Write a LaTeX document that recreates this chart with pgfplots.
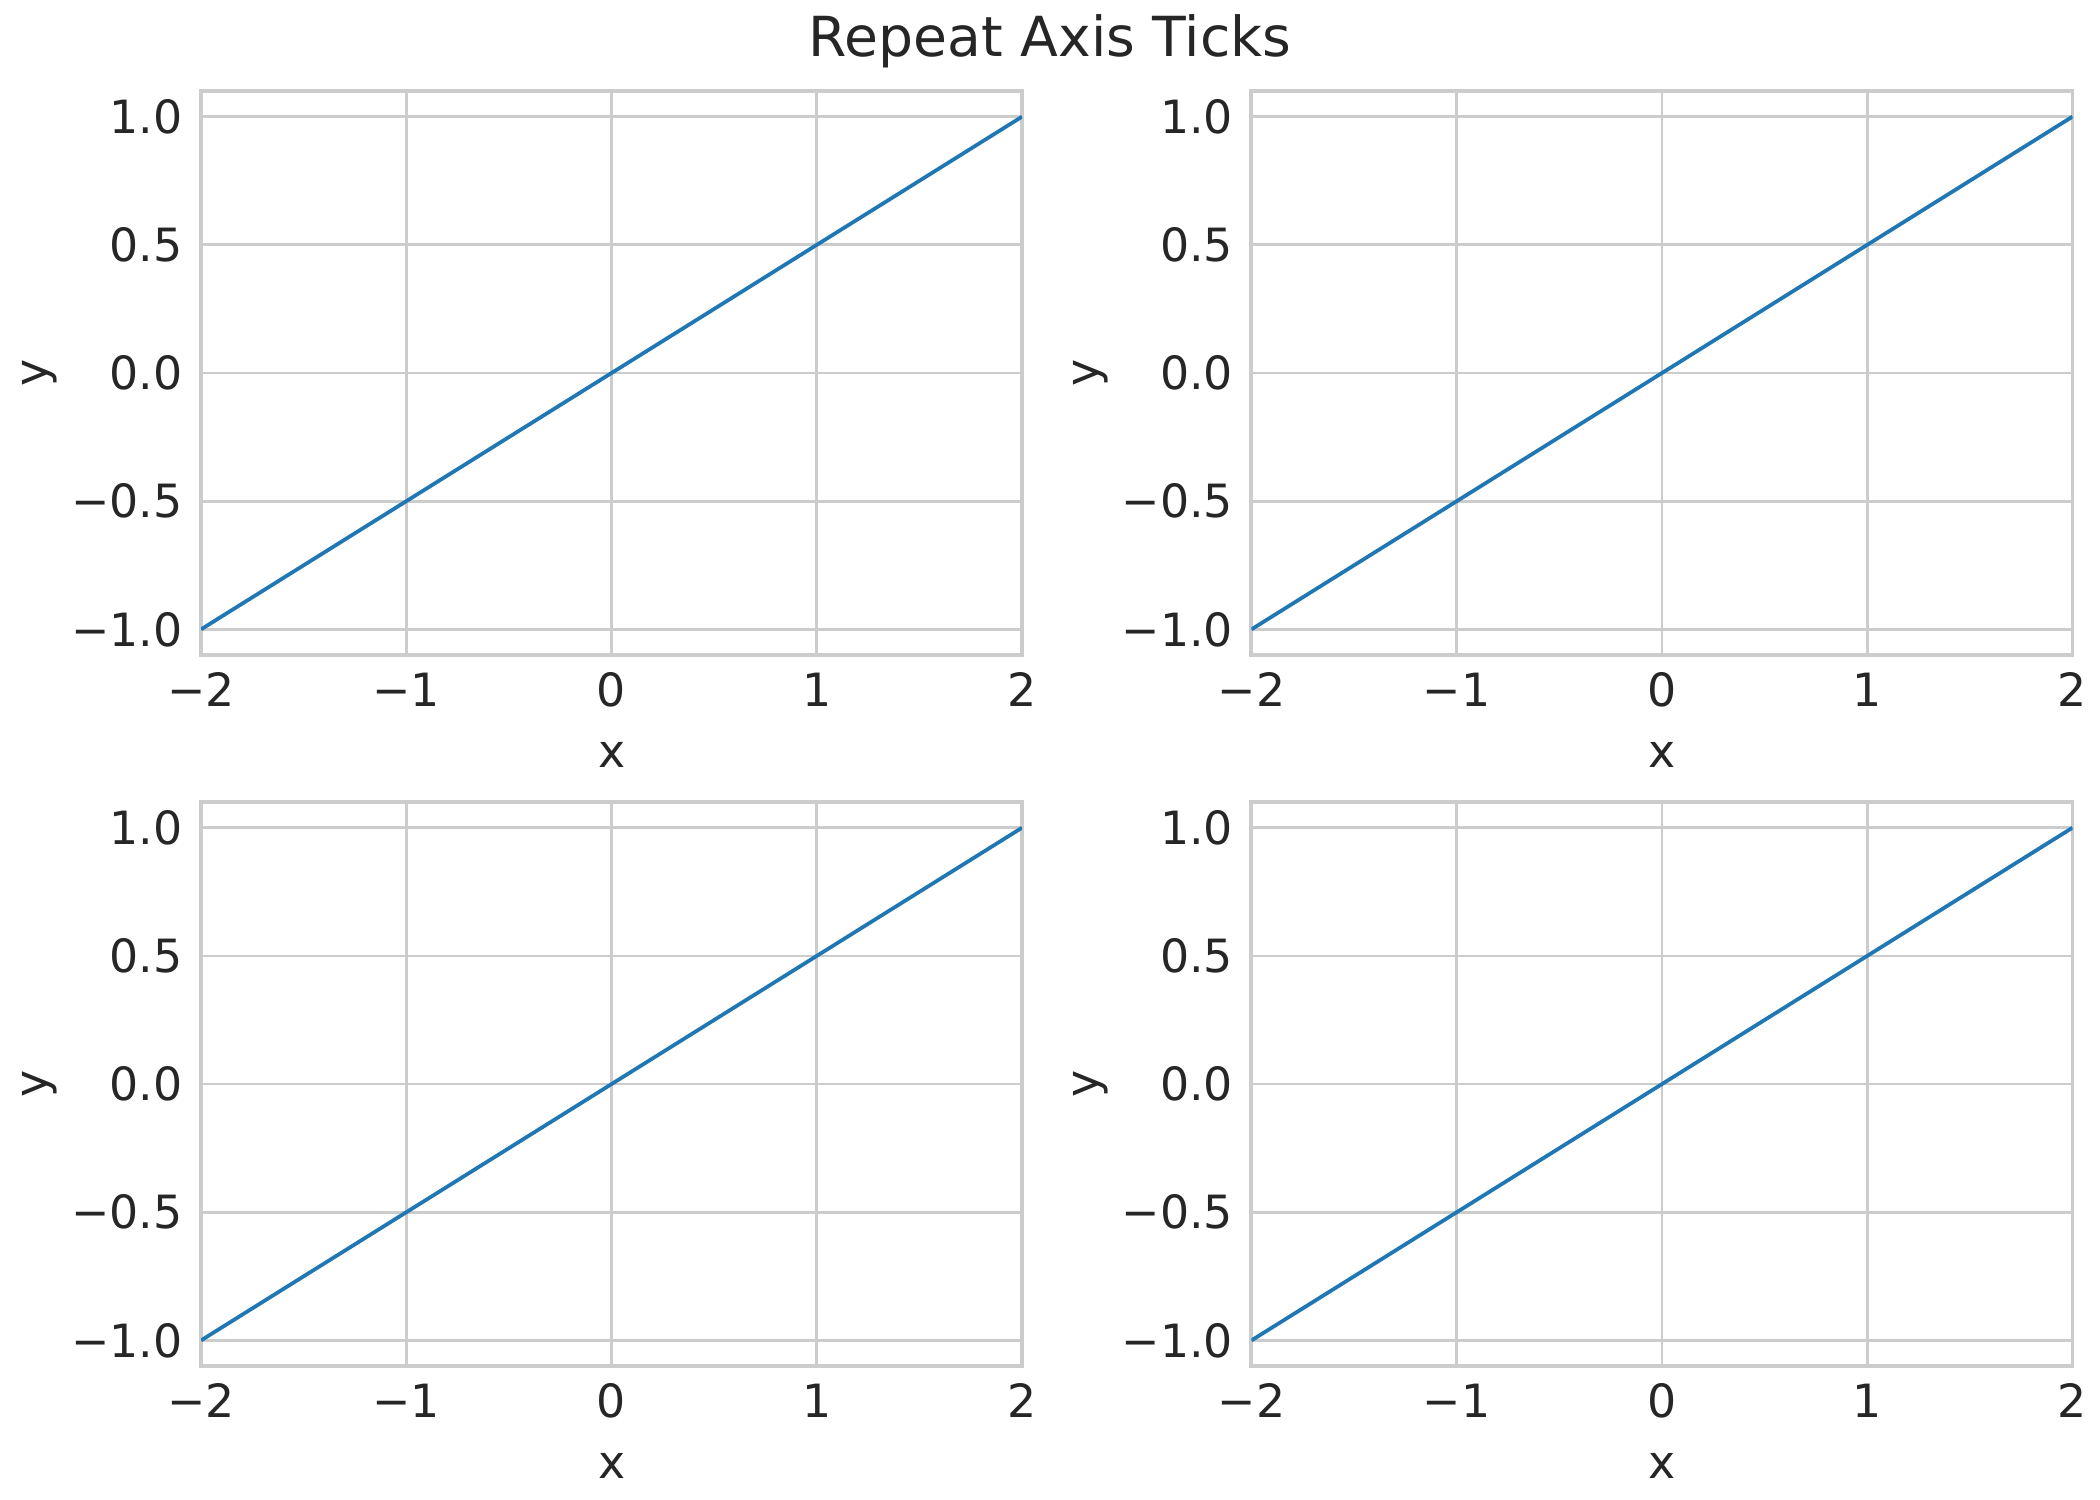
\documentclass[border=0pt]{standalone}
\usepackage{fontspec}
\setmainfont{DejaVu Sans}
\usepackage{pgfplots}
\pgfplotsset{compat=1.18}

\definecolor{gridgray}{HTML}{CCCCCC}
\definecolor{textgray}{HTML}{262626}
\definecolor{lineblue}{HTML}{1F77B4}

\pgfplotsset{
  panel/.style={
    scale only axis,
    width=394.1bp, height=270.7bp,
    anchor=south west,
    xmin=-2, xmax=2, ymin=-1.1, ymax=1.1,
    xtick={-2,-1,0,1,2}, xticklabels={−2,−1,0,1,2},
    ytick={-1,-0.5,0,0.5,1}, yticklabels={−1.0,−0.5,0.0,0.5,1.0},
    tick style={draw=none},
    grid=major,
    major grid style={gridgray, line width=1.3bp},
    axis line style={gridgray, line width=1.9bp},
    ticklabel style={font=\fontsize{22bp}{26bp}\selectfont, text=textgray},
    xticklabel style={anchor=base, yshift=-24.5bp},
    yticklabel style={anchor=east, inner sep=0pt, xshift=-8.6bp},
    xlabel=x, ylabel=y,
    every axis x label/.style={at={(axis description cs:0.5,0)}, anchor=base,
      yshift=-53.8bp, font=\fontsize{22bp}{26bp}\selectfont, text=textgray},
    every axis y label/.style={at={(axis description cs:0,0.5)}, xshift=-73.6bp,
      rotate=90, anchor=base, font=\fontsize{22bp}{26bp}\selectfont, text=textgray},
  }
}

\begin{document}
\begin{tikzpicture}
  \useasboundingbox (0,0) rectangle (1008bp,720bp);

  \node[anchor=base, font=\fontsize{26.5bp}{32bp}\selectfont, text=textgray]
    at (504bp,692.8bp) {Repeat Axis Ticks};

  % top left
  \begin{axis}[panel, at={(96.5bp,405.6bp)}]
    \addplot[lineblue, line width=1.8bp] coordinates {(-2,-1) (-1,-0.5) (0,0) (1,0.5) (2,1)};
  \end{axis}

  % top right
  \begin{axis}[panel, at={(600.7bp,405.6bp)}]
    \addplot[lineblue, line width=1.8bp] coordinates {(-2,-1) (-1,-0.5) (0,0) (1,0.5) (2,1)};
  \end{axis}

  % bottom left
  \begin{axis}[panel, at={(96.5bp,64.3bp)}]
    \addplot[lineblue, line width=1.8bp] coordinates {(-2,-1) (-1,-0.5) (0,0) (1,0.5) (2,1)};
  \end{axis}

  % bottom right
  \begin{axis}[panel, at={(600.7bp,64.3bp)}]
    \addplot[lineblue, line width=1.8bp] coordinates {(-2,-1) (-1,-0.5) (0,0) (1,0.5) (2,1)};
  \end{axis}
\end{tikzpicture}
\end{document}
